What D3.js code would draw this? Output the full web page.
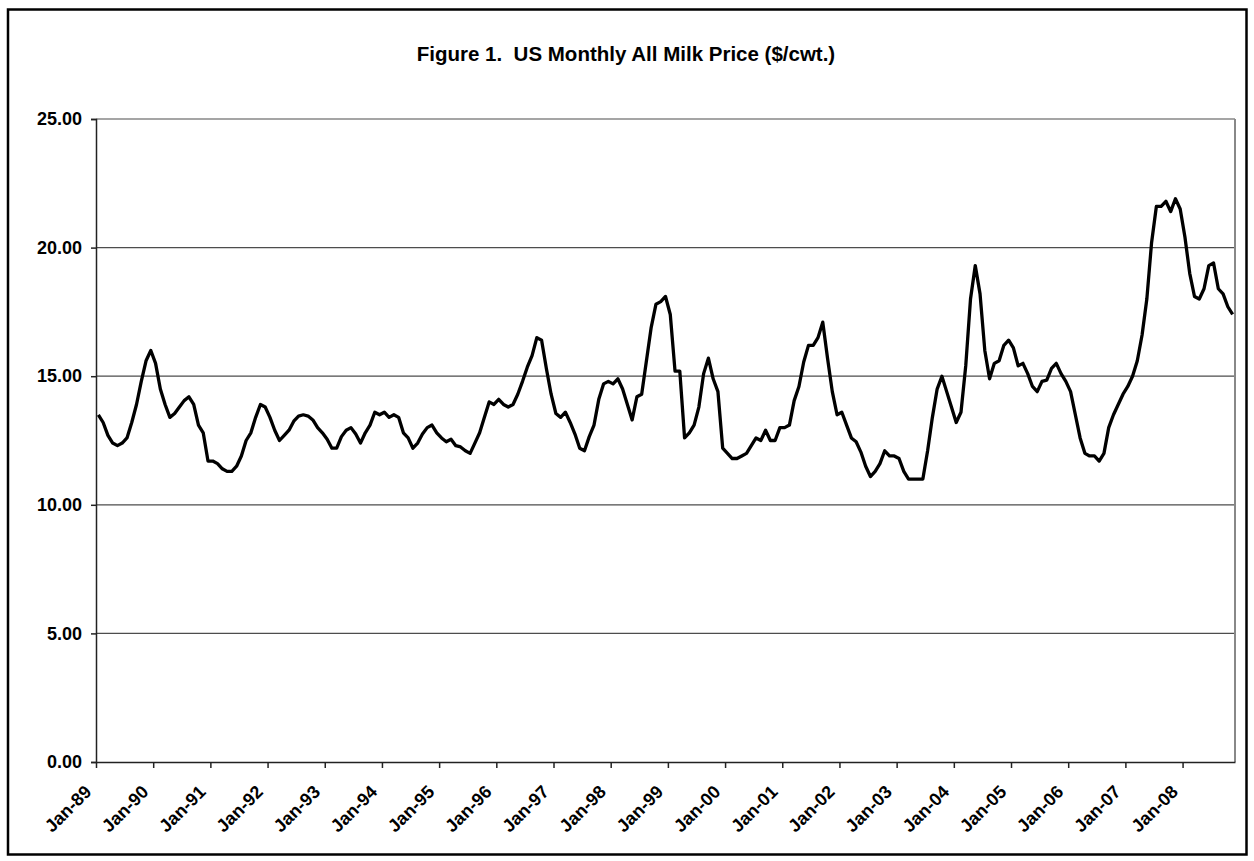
<!DOCTYPE html>
<html>
<head>
<meta charset="utf-8">
<script src="https://cdn.jsdelivr.net/npm/d3@7"></script>
<style>
  html, body { margin: 0; padding: 0; background: #fff; }
  svg { display: block; }
  text { font-family: "Liberation Sans", Arial, sans-serif; font-weight: bold; fill: #000; }
</style>
</head>
<body>
<svg id="chart" width="1254" height="861"></svg>
<script>
// ---------------- DATA ----------------
const chartTitle = "Figure 1.  US Monthly All Milk Price ($/cwt.)";
const startYear = 1989;
// Monthly US all milk price, $/cwt, Jan-89 .. Nov-08
const milkPrice = [
  13.5, 13.2, 12.7, 12.4, 12.3, 12.4, 12.6, 13.2, 13.9, 14.8, 15.6, 16.0,
  15.5, 14.5, 13.9, 13.4, 13.55, 13.8, 14.05, 14.2, 13.9, 13.1, 12.8, 11.7,
  11.7, 11.6, 11.4, 11.3, 11.3, 11.5, 11.9, 12.5, 12.8, 13.4, 13.9, 13.8,
  13.4, 12.9, 12.5, 12.7, 12.9, 13.25, 13.45, 13.5, 13.45, 13.3, 13.0, 12.8,
  12.55, 12.2, 12.2, 12.65, 12.9, 13.0, 12.75, 12.4, 12.8, 13.1, 13.6, 13.5,
  13.6, 13.4, 13.5, 13.4, 12.8, 12.6, 12.2, 12.4, 12.75, 13.0, 13.1, 12.8,
  12.6, 12.45, 12.55, 12.3, 12.25, 12.1, 12.0, 12.4, 12.8, 13.4, 14.0, 13.9,
  14.1, 13.9, 13.8, 13.9, 14.3, 14.8, 15.35, 15.8, 16.5, 16.4, 15.3, 14.3,
  13.55, 13.4, 13.6, 13.2, 12.75, 12.2, 12.1, 12.65, 13.1, 14.1, 14.7, 14.8,
  14.7, 14.9, 14.5, 13.9, 13.3, 14.2, 14.3, 15.6, 16.9, 17.8, 17.9, 18.1,
  17.4, 15.2, 15.2, 12.6, 12.8, 13.1, 13.8, 15.1, 15.7, 14.9, 14.4, 12.2,
  12.0, 11.8, 11.8, 11.9, 12.0, 12.3, 12.6, 12.5, 12.9, 12.5, 12.5, 13.0,
  13.0, 13.1, 14.05, 14.6, 15.55, 16.2, 16.2, 16.5, 17.1, 15.7, 14.4, 13.5,
  13.6, 13.1, 12.6, 12.45, 12.05, 11.5, 11.1, 11.3, 11.6, 12.1, 11.9, 11.9,
  11.8, 11.3, 11.0, 11.0, 11.0, 11.0, 12.1, 13.4, 14.5, 15.0, 14.4, 13.8,
  13.2, 13.6, 15.4, 18.0, 19.3, 18.2, 16.0, 14.9, 15.5, 15.6, 16.2, 16.4,
  16.1, 15.4, 15.5, 15.1, 14.6, 14.4, 14.8, 14.85, 15.3, 15.5, 15.1, 14.8,
  14.4, 13.5, 12.6, 12.0, 11.9, 11.9, 11.7, 12.0, 13.0, 13.5, 13.9, 14.3,
  14.6, 15.0, 15.6, 16.6, 18.0, 20.2, 21.6, 21.6, 21.8, 21.4, 21.9, 21.5,
  20.4, 19.0, 18.1, 18.0, 18.4, 19.3, 19.4, 18.4, 18.2, 17.7, 17.4
];
const xTickLabels = ["Jan-89","Jan-90","Jan-91","Jan-92","Jan-93","Jan-94","Jan-95",
  "Jan-96","Jan-97","Jan-98","Jan-99","Jan-00","Jan-01","Jan-02","Jan-03","Jan-04",
  "Jan-05","Jan-06","Jan-07","Jan-08"];
const yTickValues = [0, 5, 10, 15, 20, 25];

// ---------------- LAYOUT ----------------
const svg = d3.select("#chart");
const plot = { left: 96, right: 1235, top: 119, bottom: 762 };
const fontStack = "'Liberation Sans', Arial, sans-serif";

// outer frame
svg.append("rect")
  .attr("x", 8).attr("y", 9.5)
  .attr("width", 1238.5).attr("height", 845)
  .attr("fill", "#fff").attr("stroke", "#000").attr("stroke-width", 2.5);

// title
svg.append("text")
  .attr("x", 626).attr("y", 61)
  .attr("text-anchor", "middle")
  .style("font-size", "20.5px")
  .style("white-space", "pre")
  .text(chartTitle);

// scales: categories between tick marks
const nCat = milkPrice.length;
const x = d3.scaleLinear().domain([0, nCat]).range([plot.left, plot.right]);
const y = d3.scaleLinear().domain([0, 25]).range([plot.bottom, plot.top]);

// gridlines
svg.append("g")
  .selectAll("line")
  .data(yTickValues.filter(v => v > 0))
  .join("line")
  .attr("x1", plot.left).attr("x2", plot.right)
  .attr("y1", d => y(d)).attr("y2", d => y(d))
  .attr("stroke", "#4d4d4d").attr("stroke-width", 1.2);

// right border of plot area
svg.append("line")
  .attr("x1", plot.right).attr("x2", plot.right)
  .attr("y1", plot.top).attr("y2", plot.bottom)
  .attr("stroke", "#888").attr("stroke-width", 2);

// y axis
const yAxis = d3.axisLeft(y)
  .tickValues(yTickValues)
  .tickFormat(d3.format(".2f"))
  .tickSize(5).tickPadding(9);
const gy = svg.append("g").attr("transform", `translate(${plot.left},0)`).call(yAxis);
gy.select(".domain").attr("stroke", "#222").attr("stroke-width", 1.5);
gy.selectAll(".tick line").attr("stroke", "#222").attr("stroke-width", 1.5);
gy.selectAll(".tick text")
  .style("font-size", "18px")
  .style("font-family", fontStack)
  .style("font-weight", "bold")
  .attr("fill", "#000");

// x axis
const xTickIdx = xTickLabels.map((_, i) => i * 12);
const xAxis = d3.axisBottom(x)
  .tickValues(xTickIdx)
  .tickFormat((d, i) => xTickLabels[i])
  .tickSize(6).tickSizeOuter(0);
const gx = svg.append("g").attr("transform", `translate(0,${plot.bottom})`).call(xAxis);
gx.select(".domain").attr("stroke", "#222").attr("stroke-width", 1.5);
gx.selectAll(".tick line").attr("stroke", "#222").attr("stroke-width", 1.5);
gx.selectAll(".tick text")
  .style("font-size", "18px")
  .style("font-family", fontStack)
  .style("font-weight", "bold")
  .attr("fill", "#000")
  .attr("text-anchor", "end")
  .attr("dy", null)
  .attr("y", 0)
  .attr("transform", "translate(-4,31) rotate(-45)");

// line
const line = d3.line()
  .x((d, i) => x(i + 0.5))
  .y(d => y(d));
svg.append("path")
  .datum(milkPrice)
  .attr("d", line)
  .attr("fill", "none")
  .attr("stroke", "#000")
  .attr("stroke-width", 3.3)
  .attr("stroke-linejoin", "round");
</script>
</body>
</html>
